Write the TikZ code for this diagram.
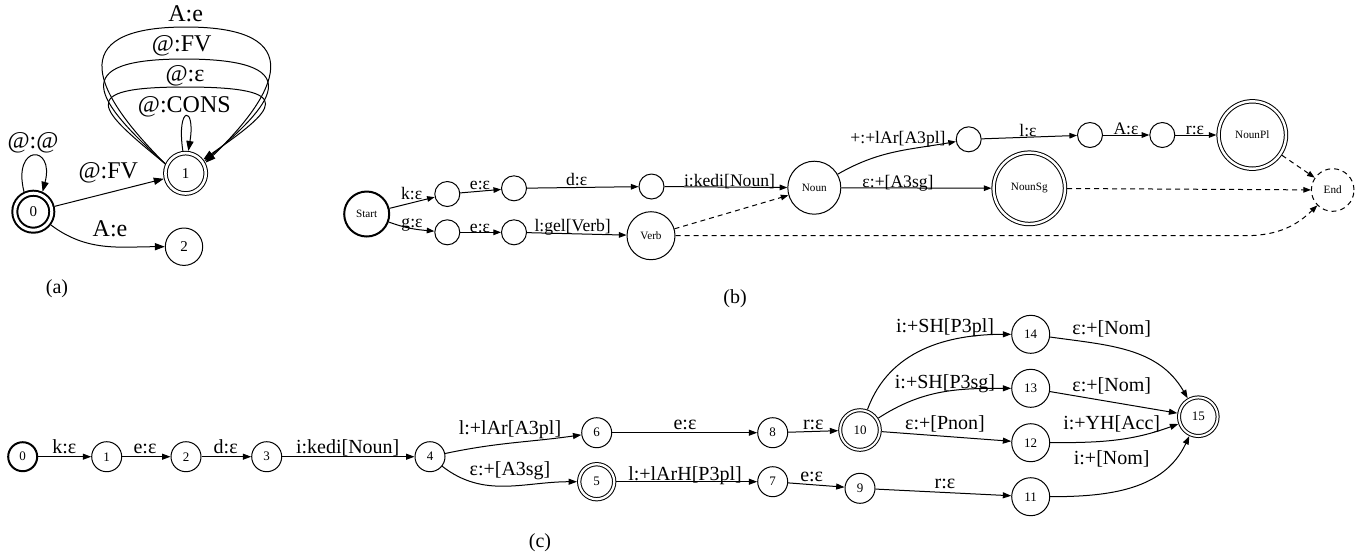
\documentclass[tikz,border=0pt]{standalone}
\usepackage{fontspec}
\setmainfont{Liberation Serif}
\usetikzlibrary{arrows.meta}
\newcommand\myfs[1]{\fontsize{#1}{#1}\selectfont}
\begin{document}
\begin{tikzpicture}[x=0.5pt,y=0.5pt,line width=0.5pt,
  st/.style={circle,draw,line width=0.5pt,inner sep=0pt,outer sep=0.25pt},
  dbl/.style={st,double,double distance=1.2pt,outer sep=1.1pt},
  thk/.style={line width=1pt,outer sep=0.5pt},
  labtxt/.style={inner sep=0pt,text height=0.66em,text depth=0pt,anchor=center},
  laba/.style={labtxt,font=\myfs{12}},
  labb/.style={labtxt,font=\myfs{8.8}},
  labc/.style={labtxt,font=\myfs{10}},
  captxt/.style={labtxt,font=\myfs{10}},
  arra/.style={-{Triangle[length=5pt,width=3.6pt]}},
  arrb/.style={-{Triangle[length=3.8pt,width=2.8pt]}},
  arrc/.style={-{Triangle[length=4.2pt,width=3pt]}},
  dsh/.style={dash pattern=on 2.5pt off 2pt},
  na/.style={font=\myfs{7.5}},
  nb/.style={font=\myfs{5.6}},
  nc/.style={font=\myfs{6.5}}
]
\useasboundingbox (0,0) rectangle (1366,-554);

% ---------------- (a)
\node[st,na,double,line width=1pt,double distance=1.5pt,outer sep=1.75pt,minimum size=18.5pt] (a0) at (33.3,-211.7) {0};
\node[dbl,na,double distance=1.3pt,outer sep=1.15pt,minimum size=20.2pt] (a1) at (185.6,-173.3) {1};
\node[st,na,minimum size=18.7pt] (a2) at (184,-246.7) {2};

\draw[arra] (a0.115) .. controls (12,-144) and (55,-144) .. (a0.65)
  node[laba] at (33,-141.5) {@:@};
\draw[arra] (a0) -- (a1) node[laba] at (108.3,-171.7) {@:FV};
\draw[arra] (a0) to[out=-37,in=180] (a2) node[laba] at (110,-230) {A:e};
\draw[arra] (a1.97) .. controls (176,-105) and (196,-105) .. (a1.83)
  node[laba] at (184.3,-106) {@:CONS};
\draw[arra] (a1.155) .. controls (100,-110) and (72,-87) .. (185,-87)
  .. controls (302,-87) and (274,-110) .. (a1.38)
  node[laba] at (185,-75) {@:ε};
\draw[arra] (a1.155) .. controls (95,-100) and (65,-59) .. (184,-59)
  .. controls (306,-59) and (278,-100) .. (a1.33)
  node[laba] at (181.7,-45) {@:FV};
\draw[arra] (a1.155) .. controls (95,-94) and (60,-27) .. (186,-27)
  .. controls (312,-27) and (277,-94) .. (a1.28)
  node[laba] at (185.7,-15) {A:e};
\node[captxt] (capa) at (57,-287) {(a)};

% ---------------- (b)
\node[st,nb,thk,minimum size=22.5pt] (start) at (366.7,-214) {Start};
\node[st,nb,minimum size=12.5pt] (k1) at (447.3,-194) {};
\node[st,nb,minimum size=12.5pt] (k2) at (514,-188.3) {};
\node[st,nb,minimum size=12.5pt] (k3) at (651.5,-186.5) {};
\node[st,nb,minimum size=12.5pt] (g1) at (447.3,-232.3) {};
\node[st,nb,minimum size=12.5pt] (g2) at (514,-232.3) {};
\node[st,nb,minimum size=24pt] (verb) at (651,-235.7) {Verb};
\node[st,nb,minimum size=26.5pt] (noun) at (814.3,-187.7) {Noun};
\node[st,nb,minimum size=12.5pt] (p1) at (968.7,-139.3) {};
\node[st,nb,minimum size=12.5pt] (p2) at (1090,-135) {};
\node[st,nb,minimum size=12.5pt] (p3) at (1162.3,-135) {};
\node[dbl,nb,minimum size=33.7pt] (nounpl) at (1252.3,-135) {NounPl};
\node[dbl,nb,minimum size=35.7pt] (nounsg) at (1029.3,-188.3) {NounSg};
\node[st,nb,dsh,minimum size=21.3pt] (endn) at (1332.7,-190) {End};

\draw[arrb] (start) -- (k1) node[labb] at (411.7,-192.7) {k:ε};
\draw[arrb] (start) to[out=-20,in=175] (g1) node[labb] at (412,-220.7) {g:ε};
\draw[arrb] (k1) -- (k2) node[labb] at (480,-183.3) {e:ε};
\draw[arrb] (g1) -- (g2) node[labb] at (480,-226) {e:ε};
\draw[arrb] (k2) -- (k3) node[labb] at (576.7,-179.3) {d:ε};
\draw[arrb] (g2) -- (verb) node[labb] at (572.7,-225) {l:gel[Verb]};
\draw[arrb] (k3) -- (noun) node[labb] at (729.5,-180) {i:kedi[Noun]};
\draw[arrb] (noun) to[out=30,in=190] (p1) node[labb] at (898,-137) {+:+lAr[A3pl]};
\draw[arrb] (noun) -- (nounsg) node[labb] at (898,-180.7) {ε:+[A3sg]};
\draw[arrb] (p1) -- (p2) node[labb] at (1028,-130) {l:ε};
\draw[arrb] (p2) -- (p3) node[labb] at (1126,-128.3) {A:ε};
\draw[arrb] (p3) -- (nounpl) node[labb] at (1195,-128.3) {r:ε};
\draw[arrb,dsh] (nounpl) -- (endn);
\draw[arrb,dsh] (nounsg) -- (endn);
\draw[arrb,dsh] (verb) -- (noun);
\coordinate (vbend) at (1245,-235.7);
\draw[arrb,dsh] (verb.east) -- (vbend) .. controls (1280,-235.7) and (1298,-224) .. (endn.225);
\node[captxt] (capb) at (735,-296.7) {(b)};

% ---------------- (c)
\node[st,nc,thk,minimum size=14.5pt] (c0) at (22.7,-456.7) {0};
\node[st,nc,minimum size=15pt] (c1) at (106.7,-456.7) {1};
\node[st,nc,minimum size=15pt] (c2) at (186,-456.7) {2};
\node[st,nc,minimum size=15pt] (c3) at (266.7,-456.7) {3};
\node[st,nc,minimum size=15pt] (c4) at (430,-456.7) {4};
\node[st,nc,minimum size=15pt] (c6) at (596.7,-432.7) {6};
\node[st,nc,minimum size=15pt] (c8) at (772.7,-432.7) {8};
\node[dbl,nc,double distance=1.15pt,minimum size=17.5pt] (c5) at (596.7,-481.7) {5};
\node[st,nc,minimum size=15pt] (c7) at (772.7,-481.7) {7};
\node[dbl,nc,double distance=1pt,outer sep=1pt,minimum size=19.8pt] (c10) at (860,-430) {10};
\node[st,nc,minimum size=15pt] (c9) at (860,-488.3) {9};
\node[st,nc,minimum size=19pt] (c14) at (1030.7,-334.3) {14};
\node[st,nc,minimum size=19pt] (c13) at (1030.7,-388.3) {13};
\node[st,nc,minimum size=19pt] (c12) at (1030.7,-442.7) {12};
\node[st,nc,minimum size=19pt] (c11) at (1030.7,-496.7) {11};
\node[dbl,nc,double distance=1pt,outer sep=1pt,minimum size=19.3pt] (c15) at (1198.3,-416.7) {15};

\draw[arrc] (c0) -- (c1) node[labc] at (64.3,-446.7) {k:ε};
\draw[arrc] (c1) -- (c2) node[labc] at (145,-446.7) {e:ε};
\draw[arrc] (c2) -- (c3) node[labc] at (225.7,-446.7) {d:ε};
\draw[arrc] (c3) -- (c4) node[labc] at (347.7,-446.7) {i:kedi[Noun]};
\draw[arrc] (c4) to[out=12,in=188] (c6) node[labc] at (510,-428.3) {l:+lAr[A3pl]};
\draw[arrc] (c4) to[out=-38,in=180] (c5) node[labc] at (510,-469.3) {ε:+[A3sg]};
\draw[arrc] (c6) -- (c8) node[labc] at (685,-423.3) {e:ε};
\draw[arrc] (c5) -- (c7) node[labc] at (685,-474.3) {l:+lArH[P3pl]};
\draw[arrc] (c8) -- (c10) node[labc] at (813.3,-423.3) {r:ε};
\draw[arrc] (c7) -- (c9) node[labc] at (811.7,-475) {e:ε};
\draw[arrc] (c10) to[out=70,in=180] (c14) node[labc] at (945,-326) {i:+SH[P3pl]};
\draw[arrc] (c10) to[out=33,in=180] (c13) node[labc] at (945,-381.7) {i:+SH[P3sg]};
\draw[arrc] (c10) -- (c12) node[labc] at (945,-423.3) {ε:+[Pnon]};
\draw[arrc] (c9) -- (c11) node[labc] at (945,-481.7) {r:ε};
\draw[arrc] (c14) to[out=-8,in=120] (c15) node[labc] at (1111.7,-328.3) {ε:+[Nom]};
\draw[arrc] (c13) -- (c15) node[labc] at (1111.7,-385) {ε:+[Nom]};
\draw[arrc] (c12) to[out=0,in=200] (c15) node[labc] at (1111.7,-423.3) {i:+YH[Acc]};
\draw[arrc] (c11) to[out=0,in=245] (c15) node[labc] at (1111.7,-458.3) {i:+[Nom]};
\node[captxt] (capc) at (540,-541) {(c)};
\end{tikzpicture}
\end{document}
